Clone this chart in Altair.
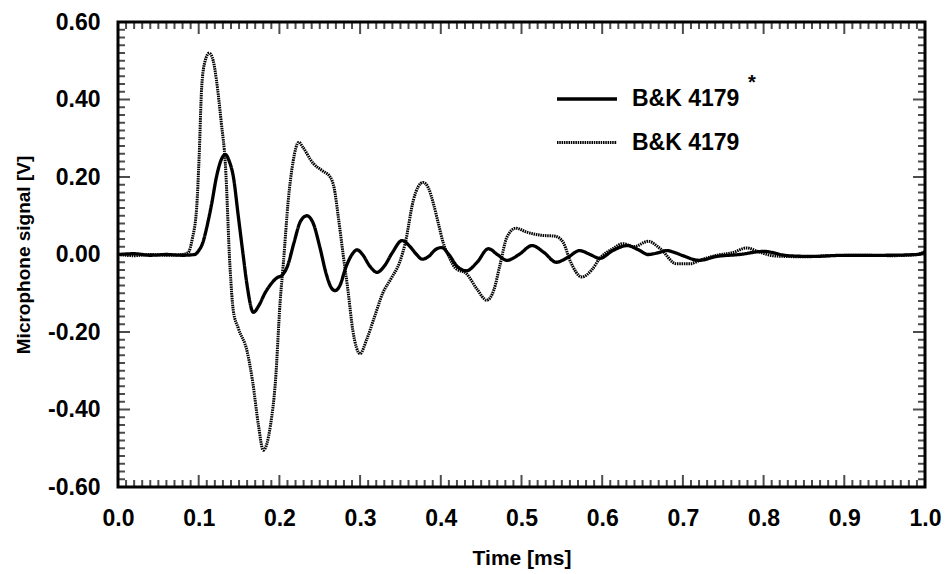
import altair as alt
import pandas as pd
import numpy as np

# ---- data ----
t_dotted = [0.0, 0.02, 0.04, 0.06, 0.08, 0.087, 0.092, 0.0975, 0.1005, 0.1037, 0.108, 0.113,
            0.118, 0.122, 0.128, 0.133, 0.1388, 0.1429, 0.149, 0.160, 0.167, 0.174, 0.180,
            0.189, 0.195, 0.201, 0.205, 0.211, 0.217, 0.224, 0.229, 0.242, 0.254, 0.263,
            0.268, 0.273, 0.279, 0.285, 0.291, 0.300, 0.308, 0.318, 0.328, 0.339, 0.349,
            0.356, 0.366, 0.372, 0.378, 0.385, 0.391, 0.397, 0.403, 0.410, 0.418, 0.432,
            0.445, 0.457, 0.466, 0.473, 0.482, 0.493, 0.506, 0.523, 0.542, 0.552, 0.560,
            0.575, 0.587, 0.597, 0.614, 0.626, 0.639, 0.657, 0.672, 0.692, 0.709, 0.721,
            0.742, 0.762, 0.779, 0.795, 0.815, 0.853, 0.88, 0.92, 0.96, 0.99, 1.0]
v_dotted = [0.0, -0.003, 0.0, -0.002, 0.0, 0.005, 0.04, 0.122, 0.25, 0.432, 0.50, 0.52,
            0.50, 0.45, 0.34, 0.235, -0.033, -0.145, -0.19, -0.25, -0.33, -0.44, -0.505,
            -0.44, -0.33, -0.12, -0.02, 0.14, 0.24, 0.29, 0.277, 0.235, 0.215, 0.20,
            0.17, 0.097, 0.0, -0.093, -0.196, -0.256, -0.22, -0.16, -0.10, -0.06, -0.02,
            0.03, 0.14, 0.175, 0.186, 0.17, 0.13, 0.08, 0.03, -0.005, -0.035, -0.05,
            -0.09, -0.118, -0.09, -0.03, 0.045, 0.068, 0.058, 0.05, 0.047, 0.03, -0.015,
            -0.058, -0.04, -0.01, 0.016, 0.028, 0.02, 0.034, 0.015, -0.024, -0.024, -0.015,
            -0.002, 0.005, 0.017, 0.006, -0.004, -0.006, -0.003, -0.002, -0.003, 0.0, 0.008]

t_solid = [0.0, 0.02, 0.04, 0.06, 0.08, 0.095, 0.100, 0.105, 0.110, 0.116, 0.122, 0.128,
           0.133, 0.138, 0.143, 0.149, 0.155, 0.160, 0.1677, 0.175, 0.182, 0.190, 0.197,
           0.203, 0.210, 0.218, 0.226, 0.234, 0.242, 0.250, 0.258, 0.265, 0.269, 0.275,
           0.282, 0.290, 0.296, 0.303, 0.312, 0.321, 0.330, 0.340, 0.352, 0.362, 0.370,
           0.377, 0.385, 0.393, 0.401, 0.410, 0.420, 0.432, 0.445, 0.459, 0.470, 0.482,
           0.497, 0.513, 0.528, 0.543, 0.557, 0.572, 0.585, 0.597, 0.613, 0.631, 0.645,
           0.657, 0.670, 0.680, 0.690, 0.700, 0.720, 0.742, 0.770, 0.800, 0.830, 0.860,
           0.900, 0.950, 0.990, 1.0]
v_solid = [0.0, 0.002, -0.002, 0.0, -0.002, 0.0, 0.01, 0.03, 0.07, 0.13, 0.20, 0.245,
           0.258, 0.24, 0.20, 0.10, 0.0, -0.08, -0.149, -0.13, -0.10, -0.075, -0.06,
           -0.054, -0.03, 0.03, 0.085, 0.10, 0.08, 0.02, -0.05, -0.088, -0.093, -0.08,
           -0.035, 0.0, 0.012, 0.0, -0.03, -0.046, -0.03, 0.005, 0.036, 0.02, 0.0,
           -0.012, -0.005, 0.012, 0.018, 0.0, -0.03, -0.042, -0.02, 0.015, 0.0, -0.015,
           0.0, 0.023, 0.005, -0.02, -0.008, 0.01, 0.0, -0.01, 0.01, 0.023, 0.012,
           0.0, 0.005, 0.01, 0.005, -0.003, -0.015, -0.005, 0.0, 0.008, -0.003, -0.005,
           -0.002, -0.002, 0.0, 0.006]

series_names = ["B&K 4179*", "B&K 4179"]

x_labels = [round(0.1 * i, 1) for i in range(11)]
y_labels = [round(-0.6 + 0.2 * i, 1) for i in range(7)]

# ---- tables ----
df_lines = pd.concat([
    pd.DataFrame({"t": t_solid, "v": v_solid, "series": series_names[0]}),
    pd.DataFrame({"t": t_dotted, "v": v_dotted, "series": series_names[1]}),
])

xt = np.round(np.arange(0, 101) * 0.01, 2)
df_xt = pd.DataFrame({"t": xt, "major": [abs(v * 10 - round(v * 10)) < 1e-6 for v in xt]})
yt = np.round(-0.6 + np.arange(0, 61) * 0.02, 2)
df_yt = pd.DataFrame({"v": yt, "major": [abs(v * 5 - round(v * 5)) < 1e-6 for v in yt]})

FONT = "Liberation Sans"
W, H = 807, 465

xs = alt.Scale(domain=[0, 1], nice=False, zero=False)
ys = alt.Scale(domain=[-0.6, 0.6], nice=False, zero=False)

x_axis = alt.Axis(values=x_labels, format=".1f", ticks=False, domain=False, grid=False,
                  labelPadding=20, labelFontSize=23, labelFont=FONT, labelColor="black",
                  labelFontWeight="bold",
                  title="Time [ms]", titleFont=FONT, titleFontSize=21, titleFontWeight="bold",
                  titleColor="black", titleY=77, titleBaseline="alphabetic", labelFlush=False)
y_axis = alt.Axis(values=y_labels, ticks=False, domain=False, grid=False,
                  labelExpr="replace(format(datum.value, '.2f'), '\u2212', '-')",
                  labelPadding=18, labelFontSize=23, labelFont=FONT, labelColor="black",
                  labelFontWeight="bold",
                  title="Microphone signal [V]", titleFont=FONT, titleFontSize=19,
                  titleFontWeight="bold", titleColor="black", titleX=-95, titleY=H / 2,
                  titleAngle=-90, titleBaseline="middle", titleAlign="center", labelFlush=False)

lines = alt.Chart(df_lines).mark_line(interpolate="monotone", color="black").encode(
    x=alt.X("t:Q", scale=xs, axis=x_axis),
    y=alt.Y("v:Q", scale=ys, axis=y_axis),
    strokeDash=alt.StrokeDash(
        "series:N",
        scale=alt.Scale(domain=series_names, range=[[1, 0], [1.5, 0.8]]),
        legend=alt.Legend(title=None, orient="none", legendX=437, legendY=45,
                          symbolType="stroke", symbolSize=3600, symbolStrokeWidth=2.8,
                          symbolStrokeColor="black", labelFont=FONT, labelFontSize=23,
                          labelFontWeight="bold",
                          labelColor="black", labelOffset=13, rowPadding=-2,
                          labelExpr="replace(datum.label, '*', '')"),
    ),
    strokeWidth=alt.StrokeWidth("series:N",
                                scale=alt.Scale(domain=series_names, range=[3.3, 3.0]),
                                legend=None),
    detail="series:N",
)

tick_size = alt.condition("datum.major", alt.value(24), alt.value(14))

bottom = alt.Chart(df_xt).mark_tick(clip=True, orient="vertical", color="black", thickness=2).encode(
    x=alt.X("t:Q", scale=xs, axis=x_axis), y=alt.YDatum(-0.6, scale=ys, axis=y_axis), size=tick_size)
top = alt.Chart(df_xt).mark_tick(clip=True, orient="vertical", color="black", thickness=2).encode(
    x=alt.X("t:Q", scale=xs, axis=x_axis), y=alt.YDatum(0.6, scale=ys, axis=y_axis), size=tick_size)
left = alt.Chart(df_yt).mark_tick(clip=True, orient="horizontal", color="black", thickness=2).encode(
    y=alt.Y("v:Q", scale=ys, axis=y_axis), x=alt.XDatum(0.0, scale=xs, axis=x_axis), size=tick_size)
right = alt.Chart(df_yt).mark_tick(clip=True, orient="horizontal", color="black", thickness=2).encode(
    y=alt.Y("v:Q", scale=ys, axis=y_axis), x=alt.XDatum(1.0, scale=xs, axis=x_axis), size=tick_size)

star = alt.Chart(pd.DataFrame({"s": ["*"]})).mark_text(
    font=FONT, fontSize=20, fontWeight="bold", color="black", align="left", baseline="middle"
).encode(text="s:N", x=alt.value(630), y=alt.value(61))

chart = alt.layer(lines, bottom, top, left, right, star).properties(
    width=W, height=H,
    background="white",
    autosize=alt.AutoSizeParams(type="none"),
    padding={"left": 118, "top": 22, "right": 20, "bottom": 87},
).configure_view(stroke="black", strokeWidth=3)

chart.save("out.html", embed_options={"renderer": "svg", "actions": False})
